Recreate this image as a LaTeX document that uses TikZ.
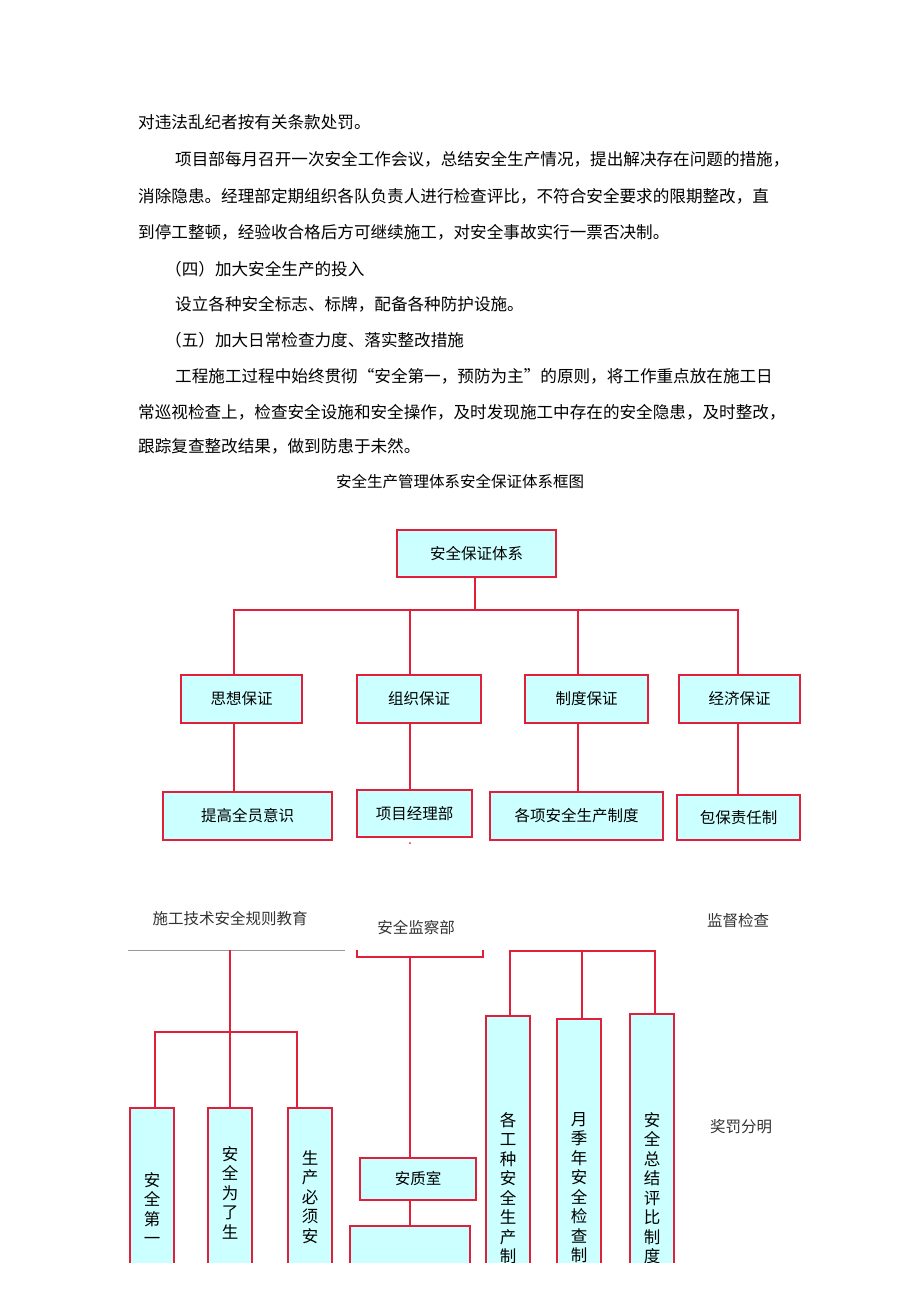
\documentclass[tikz,border=0pt]{standalone}
\usepackage{fontspec}
\setmainfont{Noto Sans CJK SC}
\XeTeXlinebreaklocale "zh"
\begin{document}
\begin{tikzpicture}[x=1pt,y=-1pt,
  box/.style={draw=boxred,fill=boxfill,line width=2.2pt,inner sep=0pt,font=\fontsize{15.5}{18}\selectfont},
  vbox/.style={box,anchor=north,minimum width=44pt,minimum height=260pt},
  vt/.style={anchor=north,inner sep=0pt,font=\fontsize{16.5}{19.5}\selectfont,align=center},
  con/.style={draw=boxred,line width=2pt},
  body/.style={anchor=west,inner sep=0pt,font=\fontsize{16.6}{20}\selectfont},
  lab/.style={inner sep=0pt,font=\fontsize{15.5}{18}\selectfont,text=black!80}]
\definecolor{boxred}{HTML}{E0203A}
\definecolor{boxfill}{HTML}{CCFFFF}
\useasboundingbox (0,0) rectangle (920,1301);
\fill[white] (0,0) rectangle (920,1301);
% body text
\node[body] (t1) at (138,122) {对违法乱纪者按有关条款处罚。};
\node[body] (t2) at (175,159) {项目部每月召开一次安全工作会议，总结安全生产情况，提出解决存在问题的措施，};
\node[body] (t3) at (138,196) {消除隐患。经理部定期组织各队负责人进行检查评比，不符合安全要求的限期整改，直};
\node[body] (t4) at (138,232) {到停工整顿，经验收合格后方可继续施工，对安全事故实行一票否决制。};
\node[body] (t5) at (165,269) {（四）加大安全生产的投入};
\node[body] (t6) at (175,304) {设立各种安全标志、标牌，配备各种防护设施。};
\node[body] (t7) at (165,340) {（五）加大日常检查力度、落实整改措施};
\node[body] (t8) at (175,376) {工程施工过程中始终贯彻“安全第一，预防为主”的原则，将工作重点放在施工日};
\node[body] (t9) at (138,412) {常巡视检查上，检查安全设施和安全操作，及时发现施工中存在的安全隐患，及时整改，};
\node[body] (t10) at (138,446) {跟踪复查整改结果，做到防患于未然。};
\node[lab,text=black] (title) at (460,482) {安全生产管理体系安全保证体系框图};
% top
\node[box,minimum width=159pt,minimum height=47pt] (root) at (476.5,553.5) {安全保证体系};
\node[box,minimum width=121pt,minimum height=48pt] (a1) at (241.5,699) {思想保证};
\node[box,minimum width=124pt,minimum height=48pt] (a2) at (419,699) {组织保证};
\node[box,minimum width=123pt,minimum height=48pt] (a3) at (586.5,699) {制度保证};
\node[box,minimum width=121pt,minimum height=48pt] (a4) at (739.5,699) {经济保证};
\node[box,minimum width=169pt,minimum height=48pt] (b1) at (247.5,816) {提高全员意识};
\node[box,minimum width=115pt,minimum height=47pt] (b2) at (414.5,813.5) {项目经理部};
\node[box,minimum width=173pt,minimum height=48pt] (b3) at (576.5,816) {各项安全生产制度};
\node[box,minimum width=123pt,minimum height=45pt] (b4) at (738.5,817.5) {包保责任制};
\coordinate (rj) at (475,610);
\draw[con] (rj |- root.south) -- (rj);
\draw[con] (234,675) -- (234,610) -- (738,610) -- (738,675);
\draw[con] (410,610) -- (410,675);
\draw[con] (578,610) -- (578,675);
\draw[con] (234,723) -- (234,792);
\draw[con] (410,723) -- (410,790);
\draw[con] (578,723) -- (578,792);
\draw[con] (738,723) -- (738,795);
\fill[boxred] (410,843) circle (1pt);
% labels
\node[lab] (l1) at (230,919) {施工技术安全规则教育};
\node[lab] (l2) at (416,927) {安全监察部};
\node[lab] (l3) at (738,921) {监督检查};
\node[lab] (l4) at (741,1127) {奖罚分明};
% lower
\begin{scope}
\clip (0,0) rectangle (920,1262);
\draw[black!40,line width=0.8pt] (128,950) -- (345,950);
\draw[con] (230,950) -- (230,1107);
\draw[con] (155,1107) -- (155,1032) -- (297,1032) -- (297,1107);
\node[vbox] (c1) at (152,1107) {};
\node[vbox] (c2) at (230,1107) {};
\node[vbox] (c3) at (310,1107) {};
\node[vt] (c1t) at (152,1172) {安\\全\\第\\一};
\node[vt] (c2t) at (230,1146) {安\\全\\为\\了\\生};
\node[vt] (c3t) at (310,1150) {生\\产\\必\\须\\安};
\draw[con] (357,950) -- (357,957) -- (483,957) -- (483,950);
\node[box,minimum width=116pt,minimum height=42pt] (q1) at (418,1179) {安质室};
\draw[con] (410,957) -- (q1.north -| 410,0);
\node[box,anchor=north,minimum width=120pt,minimum height=60pt] (q2) at (410,1225) {};
\draw[con] (410,1200) -- (q2.north);
\draw[con] (510,1015) -- (510,951) -- (655,951) -- (655,1013);
\draw[con] (582,951) -- (582,1018);
\node[vbox] (d1) at (508,1015) {};
\node[vbox] (d2) at (579,1018) {};
\node[vbox] (d3) at (652,1013) {};
\node[vt] (d1t) at (508,1112) {各\\工\\种\\安\\全\\生\\产\\制\\度};
\node[vt] (d2t) at (579,1112) {月\\季\\年\\安\\全\\检\\查\\制\\度};
\node[vt] (d3t) at (652,1112) {安\\全\\总\\结\\评\\比\\制\\度};
\end{scope}
\end{tikzpicture}
\end{document}
